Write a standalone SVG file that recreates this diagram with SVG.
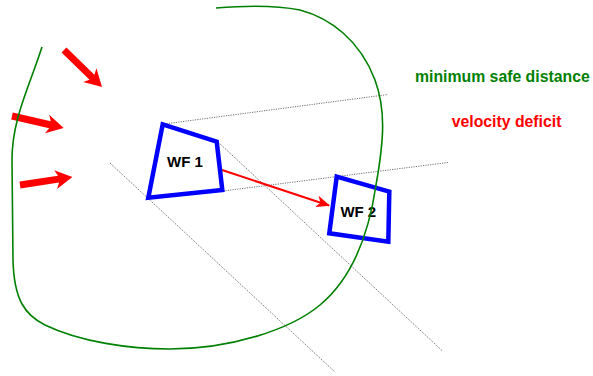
<svg xmlns="http://www.w3.org/2000/svg" width="593" height="376" viewBox="0 0 593 376">
<style>
.zone{fill:none;stroke:#008000;stroke-width:1.6}
.wake{fill:none;stroke:#707070;stroke-width:1;stroke-dasharray:1.2,1.2}
.farm{fill:none;stroke:#0000ff;stroke-width:4.5;stroke-linejoin:miter}
.wind{fill:#ff0000}
.lbl{font-family:"Liberation Sans",Arial,sans-serif;font-weight:bold}
.def{fill:none;stroke:#ff0000;stroke-width:2}
</style>
<defs>
<path id="windArrow" d="M0,-3.5 L39,-3.5 L36,-9.5 L53,0 L36,9.5 L39,3.5 L0,3.5 Z"/>
<marker id="ah" markerWidth="14" markerHeight="12" refX="13" refY="6" orient="auto" markerUnits="userSpaceOnUse">
<path d="M0,0 L14,6 L0,12 L4,6 Z" fill="#ff0000"/>
</marker>
</defs>
<g id="connectors">
<line class="wake" x1="164" y1="124" x2="388" y2="94.5"/>
<line class="wake" x1="223" y1="191" x2="448" y2="162.5"/>
<line class="wake" x1="110" y1="163" x2="335" y2="372"/>
<line class="wake" x1="218" y1="142" x2="442" y2="350.5"/>
<line class="def" x1="222" y1="170" x2="329" y2="205.5" marker-end="url(#ah)"/>
</g>
<g id="wind">
<use href="#windArrow" class="wind" transform="translate(64,50) rotate(44.2)"/>
<use href="#windArrow" class="wind" transform="translate(12,116) rotate(13)"/>
<use href="#windArrow" class="wind" transform="translate(20,185) rotate(-8.7)"/>
</g>
<g id="wf1">
<polygon class="farm" points="162.7,124.3 216.7,141.7 222.3,190 148.3,197.7"/>
<text class="lbl" x="185" y="166.5" font-size="15" text-anchor="middle" fill="#000">WF 1</text>
</g>
<g id="wf2">
<polygon class="farm" points="336.7,176.7 389.3,191.7 388.3,241.7 329.3,233.3"/>
<text class="lbl" x="358.3" y="217.3" font-size="15" text-anchor="middle" fill="#000">WF 2</text>
</g>
<g id="zone">
<path class="zone" d="M42,47 C28,90 12,120 12,160 L13,260 C14,300 25,315 45,325 C80,342 130,349 170,349 C230,349 290,330 320,305 C350,280 368,240 376,185 C384,140 386,110 375,80 C360,40 330,18 300,10 C275,5 240,6 216,8"/>
</g>
<g id="legend">
<text class="lbl" x="415" y="81.5" font-size="15.8" fill="#008000">minimum safe distance</text>
<text class="lbl" x="451.7" y="126.5" font-size="15.8" fill="#ff0000">velocity deficit</text>
</g>
</svg>
